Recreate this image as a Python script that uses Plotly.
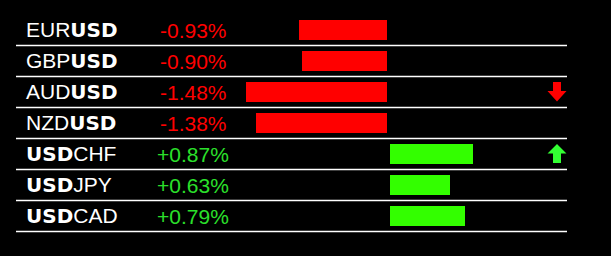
import plotly.graph_objects as go

# ---- data ----
base_ccy = ["EUR", "GBP", "AUD", "NZD", "USD", "USD", "USD"]
quote_ccy = ["USD", "USD", "USD", "USD", "CHF", "JPY", "CAD"]
changes = [-0.93, -0.90, -1.48, -1.38, 0.87, 0.63, 0.79]

# ---- styling ----
W, H = 611, 256
ZERO_PX = 388.5       # pixel of zero line
PX_PER_UNIT = 95.0    # pixels per 1 %
ROW0_PX = 30.0        # centre of first row
ROW_PX = 31.0         # row pitch
GAP = 1.5 / PX_PER_UNIT
RED = "#ff0000"
GREEN_BAR = "#33ff00"
GREEN_TXT = "#2be02b"
GREEN_ARROW = "#33ff33"
FONT = "Liberation Sans, Arial, sans-serif"
FS = 21

n = len(changes)
rows = list(range(n))

x_range = [-ZERO_PX / PX_PER_UNIT, (W - ZERO_PX) / PX_PER_UNIT]
y_range = [(H - ROW0_PX) / ROW_PX, -ROW0_PX / ROW_PX]


def px(xp):
    return xp / W


def bold(s):
    return f'<span style="font-family:DejaVu Sans;font-weight:bold;font-size:20px">{s}</span>'


fig = go.Figure()
fig.add_trace(go.Bar(
    x=changes,
    y=rows,
    base=[-GAP if v < 0 else GAP for v in changes],
    orientation="h",
    width=20 / ROW_PX,
    marker=dict(color=[RED if v < 0 else GREEN_BAR for v in changes], line=dict(width=0)),
    hoverinfo="skip",
))

annotations = []
shapes = []
for i, (b, q, v) in enumerate(zip(base_ccy, quote_ccy, changes)):
    b_txt = bold(b) if b == "USD" else b
    q_txt = bold(q) if q == "USD" else q
    annotations.append(dict(
        x=px(24), xref="paper", y=i, yref="y", xanchor="left", yanchor="middle",
        text=b_txt + q_txt, showarrow=False,
        font=dict(family=FONT, size=FS, color="white"),
    ))
    annotations.append(dict(
        x=px(193), xref="paper", y=i, yref="y", xanchor="center", yanchor="middle",
        text=f"{v:+.2f}%", showarrow=False,
        font=dict(family=FONT, size=FS, color=RED if v < 0 else GREEN_TXT),
    ))
    # separator line below each row
    shapes.append(dict(
        type="line", xref="paper", yref="y", x0=px(16), x1=px(567),
        y0=i + 0.5, y1=i + 0.5, line=dict(color="white", width=1.5),
    ))

# arrows at the extremes
imin = changes.index(min(changes))
imax = changes.index(max(changes))
cx = 557.0
sh, hh = 4.0, 9.5  # stem half width, head half width (px)


def u(dpx):
    return dpx / ROW_PX


# down arrow
yc = imin
path = (f"M {px(cx - sh)},{yc + u(-10)} L {px(cx + sh)},{yc + u(-10)} "
        f"L {px(cx + sh)},{yc + u(-1)} L {px(cx + hh)},{yc + u(-1)} "
        f"L {px(cx)},{yc + u(9.5)} L {px(cx - hh)},{yc + u(-1)} "
        f"L {px(cx - sh)},{yc + u(-1)} Z")
shapes.append(dict(type="path", xref="paper", yref="y", path=path,
                   fillcolor=RED, line=dict(width=0)))
# up arrow
yc = imax
path = (f"M {px(cx)},{yc + u(-10)} L {px(cx + hh)},{yc + u(-0.5)} "
        f"L {px(cx + sh)},{yc + u(-0.5)} L {px(cx + sh)},{yc + u(9)} "
        f"L {px(cx - sh)},{yc + u(9)} L {px(cx - sh)},{yc + u(-0.5)} "
        f"L {px(cx - hh)},{yc + u(-0.5)} Z")
shapes.append(dict(type="path", xref="paper", yref="y", path=path,
                   fillcolor=GREEN_ARROW, line=dict(width=0)))

fig.update_layout(
    width=W, height=H,
    margin=dict(l=0, r=0, t=0, b=0),
    paper_bgcolor="black", plot_bgcolor="black",
    showlegend=False,
    xaxis=dict(range=x_range, visible=False, fixedrange=True),
    yaxis=dict(range=y_range, visible=False, fixedrange=True),
    annotations=annotations,
    shapes=shapes,
    bargap=0,
)

fig.write_html("out.html", config={"displayModeBar": False})
